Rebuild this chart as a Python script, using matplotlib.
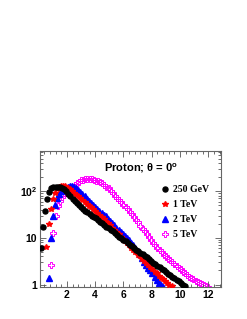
"""Proton lateral distribution, theta = 0 deg, four primary energies."""

import matplotlib

matplotlib.use("Agg")
import matplotlib.pyplot as plt
import numpy as np
from matplotlib.ticker import FixedLocator, FixedFormatter, MultipleLocator, LogLocator, NullFormatter

plt.rcParams["mathtext.fontset"] = "custom"
plt.rcParams["mathtext.rm"] = "Liberation Sans:bold"
plt.rcParams["mathtext.bf"] = "Liberation Sans:bold"

BIN_WIDTH = 0.15

# 250 GeV (black circles), first bin centre 0.15
E250_X0 = 0.15
E250_Y = [
    6.0, 17, 38, 68, 98, 115, 123, 126, 126, 123, 117, 110, 100, 89, 78, 69,
    62, 55, 50, 46, 42, 38, 35.5, 32.4, 30.2, 28.2, 26.3, 24.0, 22.4, 20.4,
    19.1, 17.4, 16.2, 14.8, 13.8, 12.6, 11.7, 10.7, 10.0, 9.1, 8.5, 7.8, 7.2,
    6.6, 6.2, 5.6, 5.2, 4.8, 4.5, 4.1, 3.8, 3.5, 3.2, 2.95, 2.75, 2.5, 2.35,
    2.15, 2.0, 1.86, 1.70, 1.58, 1.48, 1.35, 1.26, 1.17, 1.07, 1.0, 0.91,
]

# 1 TeV (red stars), first bin centre 0.55
E1_X0 = 0.55
E1_Y = [
    6.5, 20, 42, 69, 93, 112, 126, 132, 132, 129, 120, 110, 102, 93, 85, 78,
    71, 65, 59, 54, 49, 45, 41, 37, 34, 31, 27.5, 25, 22.4, 20.4, 18.6, 16.6,
    14.8, 13.5, 12.0, 10.7, 9.5, 8.7, 7.8, 6.9, 6.2, 5.5, 4.9, 4.4, 4.0, 3.55,
    3.2, 2.9, 2.6, 2.35, 2.15, 1.9, 1.74, 1.55, 1.41, 1.29, 1.17, 1.10, 1.0,
    0.93,
]

# 2 TeV (blue triangles), first bin centre 0.70
E2_X0 = 0.70
E2_Y = [
    1.38, 10, 29.5, 50, 71, 89, 102, 112, 120, 126, 129, 129, 126, 117, 107,
    95, 87, 78, 68, 62, 55, 50, 46, 42, 38, 35, 31.6, 28.8, 25.7, 23.4, 20.9,
    18.6, 16.6, 15.1, 13.5, 12.0, 11.0, 9.8, 8.9, 7.9, 7.1, 6.2, 5.2, 4.5,
    3.7, 3.1, 2.6, 2.3, 2.0, 1.74, 1.45, 1.23, 1.10, 0.98, 0.89,
]

# 5 TeV (magenta open crosses), first bin centre 0.90
E5_X0 = 0.90
E5_Y = [
    2.65, 12.5, 30, 48, 63, 74, 85, 93, 100, 112, 123, 138, 151, 162, 174,
    178, 182, 182, 182, 182, 178, 170, 166, 158, 148, 138, 126, 115, 102, 91,
    81, 72, 65, 58, 51, 46, 41, 36, 32, 28, 24.5, 21.4, 18.2, 15.8, 13.8,
    12.0, 10.5, 9.1, 7.9, 6.9, 6.2, 5.5, 4.9, 4.4, 4.0, 3.6, 3.3, 3.0, 2.75,
    2.5, 2.3, 2.1, 1.9, 1.74, 1.62, 1.48, 1.38, 1.29, 1.20, 1.12, 1.07, 1.02,
    0.98, 0.93, 0.89,
]

LABELS = ["250 GeV", "1 TeV", "2 TeV", "5 TeV"]
X_TICKS = [2, 4, 6, 8, 10, 12]
Y_TICKS = [1, 10, 100]
Y_TICK_LABELS = ["1", "10", r"$\mathbf{10^{2}}$"]


def bin_centres(x0, values):
    return x0 + BIN_WIDTH * np.arange(len(values))


def main():
    fig = plt.figure(figsize=(2.47, 3.19), dpi=100)
    ax = fig.add_axes([0.162, 0.100, 0.733, 0.427])

    series = [
        (E5_X0, E5_Y, dict(marker="P", ms=4.6, mfc="none", mec="#ff00ff", mew=0.7), 1),
        (E2_X0, E2_Y, dict(marker="^", ms=3.8, color="#0000ff", mec="#0000ff"), 2),
        (E1_X0, E1_Y, dict(marker="*", ms=4.2, color="#ff0000", mec="#ff0000"), 3),
        (E250_X0, E250_Y, dict(marker="o", ms=3.6, color="black", mec="black"), 4),
    ]
    handles = {}
    for (x0, vals, style, z), label in zip(series, LABELS[::-1]):
        (h,) = ax.plot(bin_centres(x0, vals), vals, ls="none", zorder=z, **style)
        handles[label] = h

    ax.set_yscale("log")
    ax.set_xlim(0.1, 12.9)
    ax.set_ylim(0.88, 735)

    ax.xaxis.set_major_locator(FixedLocator(X_TICKS))
    ax.xaxis.set_minor_locator(MultipleLocator(0.4))
    ax.yaxis.set_major_locator(FixedLocator(Y_TICKS))
    ax.yaxis.set_major_formatter(FixedFormatter(Y_TICK_LABELS))
    ax.yaxis.set_minor_locator(LogLocator(base=10, subs=np.arange(2, 10)))
    ax.yaxis.set_minor_formatter(NullFormatter())

    tick_font = dict(family="Liberation Sans", weight="bold", size=7.5)
    for lab in ax.get_xticklabels() + ax.get_yticklabels():
        lab.set_fontproperties(matplotlib.font_manager.FontProperties(**tick_font))

    ax.tick_params(which="both", direction="in", top=True, right=True,
                   color="#555555", width=0.6, pad=2)
    ax.tick_params(which="major", length=4)
    ax.tick_params(which="minor", length=2)
    for sp in ax.spines.values():
        sp.set_color("#666666")
        sp.set_linewidth(0.8)

    ax.text(0.56, 0.875, r"Proton; θ = 0$^{\mathbf{o}}$", transform=ax.transAxes,
            ha="center", va="center", family="Liberation Sans", weight="bold",
            size=8)

    ax.legend([handles[l] for l in LABELS], LABELS, loc="upper left",
              bbox_to_anchor=(0.63, 0.80), frameon=False, handlelength=0.9,
              handletextpad=0.35, labelspacing=0.62, borderpad=0.2,
              prop=dict(family="Liberation Serif", weight="bold", size=7))

    fig.savefig("out.png", dpi=100)
    plt.close(fig)


if __name__ == "__main__":
    main()
